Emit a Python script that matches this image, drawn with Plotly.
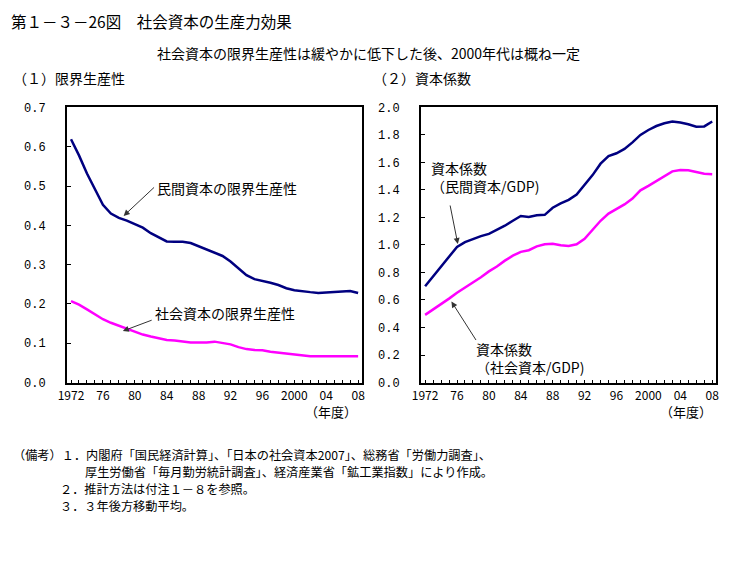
import plotly.graph_objects as go

years = list(range(1972, 2009))

mpk_private = [0.619, 0.578, 0.532, 0.490, 0.452, 0.430, 0.419, 0.412, 0.404, 0.394,
               0.380, 0.369, 0.359, 0.358, 0.358, 0.355, 0.347, 0.338, 0.332, 0.322,
               0.308, 0.290, 0.273, 0.263, 0.259, 0.254, 0.248, 0.240, 0.235, 0.232,
               0.230, 0.228, 0.229, 0.231, 0.231, 0.233, 0.228]
mpk_social = [0.207, 0.198, 0.186, 0.173, 0.161, 0.152, 0.144, 0.136, 0.129, 0.122,
              0.117, 0.112, 0.108, 0.107, 0.104, 0.102, 0.102, 0.102, 0.104, 0.100,
              0.097, 0.090, 0.085, 0.083, 0.082, 0.078, 0.076, 0.073, 0.072, 0.069,
              0.067, 0.067, 0.067, 0.067, 0.067, 0.067, 0.067]
kcoef_private = [0.700, 0.772, 0.843, 0.914, 0.986, 1.021, 1.045, 1.064, 1.081, 1.109,
                 1.140, 1.176, 1.211, 1.204, 1.216, 1.219, 1.271, 1.302, 1.328, 1.366,
                 1.437, 1.508, 1.591, 1.646, 1.667, 1.698, 1.746, 1.800, 1.836, 1.865,
                 1.885, 1.898, 1.890, 1.878, 1.860, 1.862, 1.898]
kcoef_social = [0.492, 0.530, 0.570, 0.610, 0.653, 0.689, 0.724, 0.765, 0.808, 0.843,
                0.886, 0.922, 0.950, 0.962, 0.990, 1.005, 1.009, 0.998, 0.993, 1.005,
                1.045, 1.109, 1.176, 1.228, 1.259, 1.295, 1.337, 1.397, 1.430, 1.466,
                1.504, 1.535, 1.545, 1.543, 1.530, 1.518, 1.515]

tick_years = [1972, 1976, 1980, 1984, 1988, 1992, 1996, 2000, 2004, 2008]
tick_text = ["1972", "76", "80", "84", "88", "92", "96", "2000", "04", "08"]

notes = [
    "（備考）１．内閣府「国民経済計算」、「日本の社会資本2007」、総務省「労働力調査」、",
    "厚生労働省「毎月勤労統計調査」、経済産業省「鉱工業指数」により作成。",
    "２．推計方法は付注１－８を参照。",
    "３．３年後方移動平均。",
]

W, H = 731, 569
NAVY = "#000080"
MAG = "#FF00FF"
JP = "Noto Sans CJK JP"


def px(x):
    return x / W


def py(y):
    return 1 - y / H


fig = go.Figure()
fig.add_trace(go.Scatter(x=years, y=mpk_private, mode="lines",
                         line=dict(color=NAVY, width=2.5), xaxis="x", yaxis="y"))
fig.add_trace(go.Scatter(x=years, y=mpk_social, mode="lines",
                         line=dict(color=MAG, width=2.5), xaxis="x", yaxis="y"))
fig.add_trace(go.Scatter(x=years, y=kcoef_private, mode="lines",
                         line=dict(color=NAVY, width=2.5), xaxis="x2", yaxis="y2"))
fig.add_trace(go.Scatter(x=years, y=kcoef_social, mode="lines",
                         line=dict(color=MAG, width=2.5), xaxis="x2", yaxis="y2"))

xcommon = dict(range=[1971.5, 2008.5], tickmode="array", tickvals=tick_years,
               ticktext=tick_text, ticks="inside", ticklen=3, tickcolor="black",
               showline=True, linecolor="black", linewidth=2, mirror=True,
               showgrid=False, zeroline=False, ticklabelstandoff=1,
               minor=dict(dtick=1, tick0=1972, ticks="inside", ticklen=3,
                          tickcolor="black", showgrid=False),
               tickfont=dict(family="Liberation Sans Narrow, " + JP, size=12, color="black"))
ycommon = dict(ticks="inside", ticklen=4, tickcolor="black", showline=True,
               linecolor="black", linewidth=2, mirror=True, showgrid=False,
               zeroline=False, ticklabelstandoff=17,
               tickfont=dict(family="Liberation Mono", size=12, color="black"))

y_dom = [py(386), py(104)]
fig.update_layout(
    width=W, height=H, margin=dict(l=0, r=0, t=0, b=0),
    paper_bgcolor="white", plot_bgcolor="white", showlegend=False,
    xaxis=dict(domain=[px(59), px(359)], anchor="y", **xcommon),
    yaxis=dict(domain=y_dom, anchor="x", range=[0, 0.7], dtick=0.1,
               tickformat=".1f", **ycommon),
    xaxis2=dict(domain=[px(419), px(719)], anchor="y2", **xcommon),
    yaxis2=dict(domain=y_dom, anchor="x2", range=[0, 2.0], dtick=0.2,
                tickformat=".1f", **ycommon),
)

ann = []


def text(x, y, s, size=12, xanchor="left"):
    ann.append(dict(x=px(x), y=py(y), xref="paper", yref="paper", text=s,
                    showarrow=False, xanchor=xanchor, yanchor="middle", align="left",
                    font=dict(family=JP, size=size, color="black")))


text(0, 15, "第１－３－26図　社会資本の生産力効果", 15.5)
text(366, 48, "社会資本の限界生産性は緩やかに低下した後、2000年代は概ね一定", 14, "center")
text(2, 74, "（１）限界生産性", 14)
text(368, 74, "（２）資本係数", 14)
text(356, 416, "（年度）", 13, "right")
text(717, 416, "（年度）", 13, "right")

text(148, 187, "民間資本の限界生産性", 14)
text(146, 315, "社会資本の限界生産性", 14)
text(427, 175, "資本係数<br>（民間資本/GDP)", 14)
text(473, 361, "資本係数<br>（社会資本/GDP)", 14)

text(2, 460, notes[0], 12.2)
text(75, 477.5, notes[1], 12.2)
text(50, 495, notes[2], 12.2)
text(50, 512.5, notes[3], 12.2)


def arrow(xr, yr, x, y, ax, ay):
    ann.append(dict(x=x, y=y, ax=ax, ay=ay, xref=xr, yref=yr, axref=xr, ayref=yr,
                    showarrow=True, arrowhead=2, arrowsize=1.2, arrowwidth=1,
                    arrowcolor="#333333", text=""))


arrow("x", "y", 1978.6, 0.424, 1982.6, 0.500)
arrow("x", "y", 1978.5, 0.131, 1982.3, 0.160)
arrow("x2", "y2", 1976.1, 1.007, 1975.1, 1.298)
arrow("x2", "y2", 1975.3, 0.589, 1978.5, 0.298)

fig.update_layout(annotations=ann)
fig.write_html("out.html")
